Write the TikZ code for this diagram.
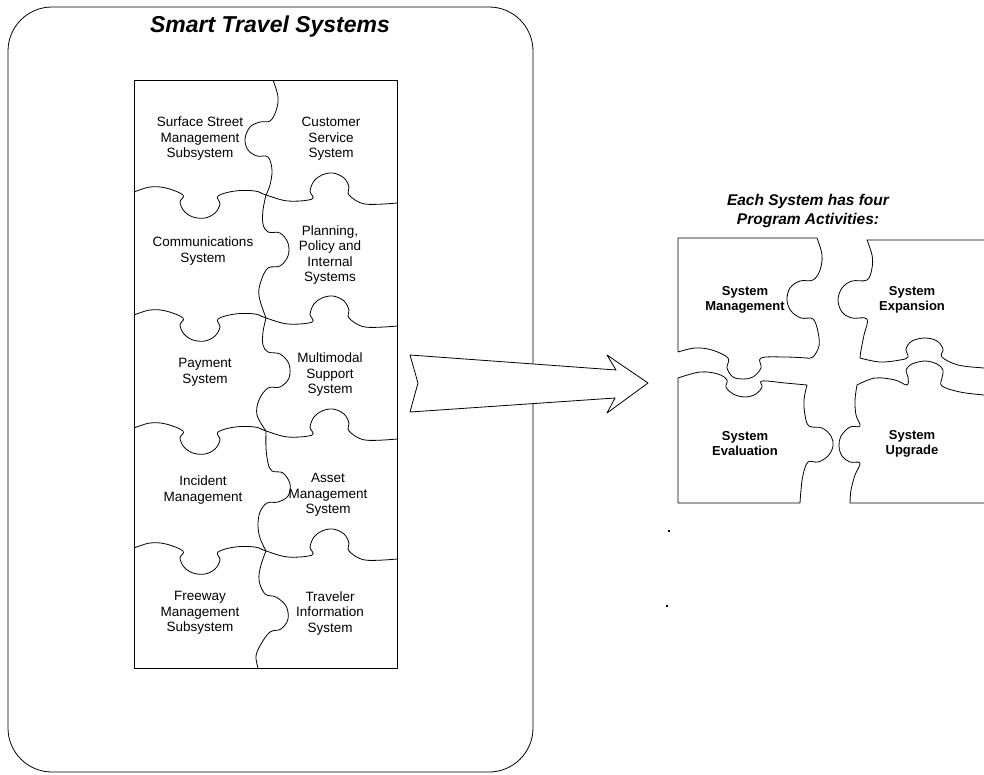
\documentclass[tikz,border=0pt]{standalone}
\usepackage{fontspec}
\setmainfont{Liberation Sans}
\usetikzlibrary{positioning}

\tikzset{
  piece/.style={draw=black, line width=0.8pt, line join=round},
  lbl/.style={font=\fontsize{13.5}{15.5}\selectfont, align=center},
  blbl/.style={font=\fontsize{13}{15}\selectfont\bfseries, align=center},
  ttl/.style={font=\fontsize{23}{27}\selectfont\bfseries\itshape, align=center},
  subttl/.style={font=\fontsize{15.5}{19.5}\selectfont\bfseries\itshape, align=center},
}

\begin{document}
\begin{tikzpicture}[x=1pt, y=-1pt]
    \useasboundingbox (0,0) rectangle (984,774);

    % 外框和标题
    \draw[piece, rounded corners=44pt] (8,7) rectangle (533,772);
    \node[ttl] (title) at (270,27) {Smart Travel Systems};

    % 左边的拼图: 外边框
    \draw[piece] (134,80) rectangle (397,668);

    % 横缝
    \draw[piece] plot[smooth, tension=0.6] coordinates {(134,192) (150,187) (166,188) (183,195) (180,202) (184,211) (193,217) (205,218) (215,213) (220,204) (218,196) (235,191) (255,191) (266,195) (288,201) (312,199) (310,191) (314,181) (322,175) (333,173) (344,178) (349,187) (349,195) (365,204) (397,203)};
    \draw[piece] plot[smooth, tension=0.6] coordinates {(134,315) (150,310) (166,311) (183,318) (180,325) (184,334) (193,340) (205,341) (215,336) (220,327) (218,319) (235,314) (255,314) (266,318) (288,324) (312,322) (310,314) (314,304) (322,298) (333,296) (344,301) (349,310) (349,318) (365,327) (397,326)};
    \draw[piece] plot[smooth, tension=0.6] coordinates {(134,428) (150,423) (166,424) (183,431) (180,438) (184,447) (193,453) (205,454) (215,449) (220,440) (218,432) (235,427) (255,427) (266,431) (288,437) (312,435) (310,427) (314,417) (322,411) (333,409) (344,414) (349,423) (349,431) (365,440) (397,439)};
    \draw[piece] plot[smooth, tension=0.6] coordinates {(134,548) (150,543) (166,544) (183,551) (180,558) (184,567) (193,573) (205,574) (215,569) (220,560) (218,552) (235,547) (255,547) (266,551) (288,557) (312,555) (310,547) (314,537) (322,531) (333,529) (344,534) (349,543) (349,551) (365,560) (397,559)};

    % 竖缝
    \draw[piece] plot[smooth, tension=0.6] coordinates {(273,80) (278,97) (276,111) (270,121) (260,122) (250,127) (245,139) (248,150) (257,156) (268,157) (272,170) (270,185) (266,195)};
    \draw[piece] plot[smooth, tension=0.6] coordinates {(266,195) (263,210) (263,224) (268,232) (280,233) (288,243) (288,256) (280,266) (268,268) (261,281) (259,296) (266,318)};
    \draw[piece] plot[smooth, tension=0.6] coordinates {(266,318) (263,332) (263,345) (268,352) (280,354) (289,364) (289,378) (280,387) (268,388) (259,400) (257,415) (266,431)};
    \draw[piece] plot[smooth, tension=0.6] coordinates {(266,431) (266,448) (268,463) (272,471) (283,473) (290,484) (288,496) (278,502) (267,503) (260,512) (258,525) (260,538) (266,551)};
    \draw[piece] plot[smooth, tension=0.6] coordinates {(266,551) (261,565) (259,580) (265,594) (276,597) (286,606) (288,619) (281,629) (270,632) (261,644) (256,656) (258,668)};

    % 左边的文字
    \node[lbl] (surf) at (200,139) {Surface Street\\Management\\Subsystem};
    \node[lbl] (cust) at (331,139) {Customer\\Service\\System};
    \node[lbl] (comm) at (203,251) {Communications\\System};
    \node[lbl] (plan) at (330,255) {Planning,\\Policy and\\Internal\\Systems};
    \node[lbl] (pay) at (205,372) {Payment\\System};
    \node[lbl] (multi) at (330,375) {Multimodal\\Support\\System};
    \node[lbl] (inc) at (203,490) {Incident\\Management};
    \node[lbl] (asset) at (328,495) {Asset\\Management\\System};
    \node[lbl] (free) at (200,613) {Freeway\\Management\\Subsystem};
    \node[lbl] (trav) at (330,613) {Traveler\\Information\\System};

    % 箭头
    \draw[piece, fill=white] (410,355) -- (616,370) -- (607,355) -- (648,383) -- (607,413) -- (615,398) -- (410,412) -- (418,383) -- cycle;

    % 右边的四块
    \node[subttl] (acts) at (808,211) {Each System has four\\Program Activities:};
    \draw[piece] (678,352) -- (678,238) -- (817,238)
      -- plot[smooth, tension=0.6] coordinates {(817,238) (822,255) (820,270) (813,280) (800,281) (790,288) (787,300) (791,311) (801,318) (813,319) (818,332) (819,346) (813,357) (807,358)}
      -- plot[smooth, tension=0.6] coordinates {(807,358) (785,357) (761,358) (761,368) (753,377) (743,379) (733,377) (727,368) (728,358) (712,350) (695,348) (678,352)};
    \draw[piece] (990,368) -- (990,240) -- (867,240)
      -- plot[smooth, tension=0.6] coordinates {(867,240) (872,255) (872,268) (867,280) (852,281) (842,288) (838,300) (842,312) (852,318) (867,319) (864,335) (861,350) (860,358)}
      -- plot[smooth, tension=0.6] coordinates {(860,358) (880,362) (900,360) (908,357) (906,349) (912,341) (925,338) (937,341) (943,349) (942,357) (958,365) (984,368) (990,368)};
    \draw[piece] (800,503) -- (678,503) -- (678,378)
      -- plot[smooth, tension=0.6] coordinates {(678,378) (700,372) (718,374) (727,380) (726,387) (733,394) (745,397) (756,394) (762,387) (762,381) (785,383) (807,385)}
      -- plot[smooth, tension=0.6] coordinates {(807,385) (804,400) (805,415) (809,426) (822,428) (831,436) (833,446) (828,456) (818,462) (808,462) (803,475) (801,490) (800,503)};
    \draw[piece] (990,395) -- (990,503) -- (850,503)
      -- plot[smooth, tension=0.6] coordinates {(850,503) (851,490) (855,475) (860,463) (850,462) (842,456) (839,446) (841,436) (850,427) (860,426) (856,415) (855,400) (857,385)}
      -- plot[smooth, tension=0.6] coordinates {(857,385) (875,378) (895,380) (907,385) (908,377) (906,370) (912,364) (925,361) (937,364) (943,370) (942,378) (942,386) (960,392) (984,395) (990,395)};

    \node[blbl] (sysman) at (745,300) {System\\Management};
    \node[blbl] (sysexp) at (912,300) {System\\Expansion};
    \node[blbl] (syseval) at (745,444) {System\\Evaluation};
    \node[blbl] (sysupg) at (912,444) {System\\Upgrade};

    % 两个小点
    \fill (668,530) rectangle ++(1.5,1.5);
    \fill (666,605) rectangle ++(1.5,1.5);
\end{tikzpicture}
\end{document}
